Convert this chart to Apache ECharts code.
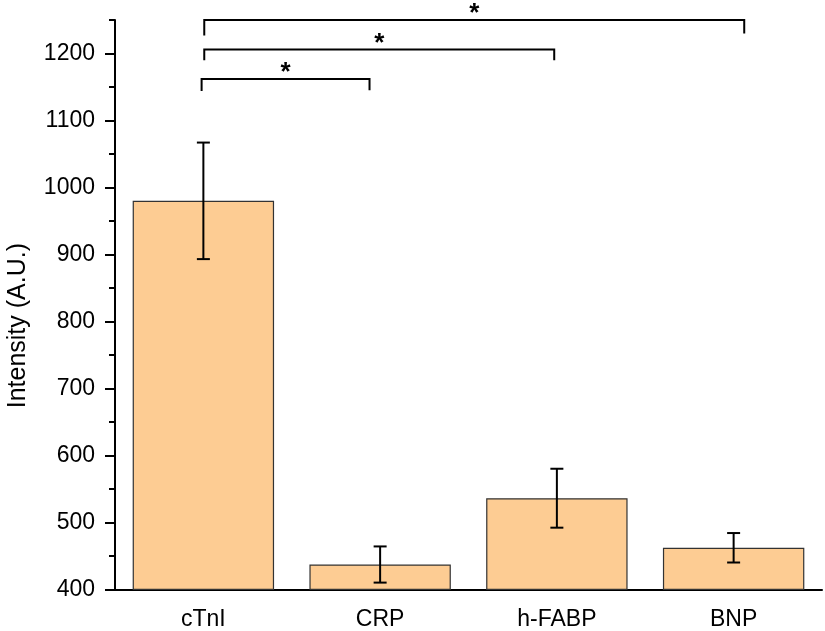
<!DOCTYPE html>
<html>
<head>
<meta charset="utf-8">
<script src="https://cdn.jsdelivr.net/npm/echarts@6/dist/echarts.min.js"></script>
<style>
html,body{margin:0;padding:0;background:#fff;}
#chart{width:825px;height:631px;}
</style>
</head>
<body>
<div id="chart"></div>
<script>
// ---- data ----
const categories = ['cTnI', 'CRP', 'h-FABP', 'BNP'];
const means = [980, 437, 536, 462];
const errors = [87, 27, 44, 22];
const yMajorTicks = [400, 500, 600, 700, 800, 900, 1000, 1100, 1200];
const yMinorTicks = [450, 550, 650, 750, 850, 950, 1050, 1150, 1250];
// significance brackets (x in category-index units)
const bracketStart = [-0.01, 0.005, 0.005];
const bracketEnd = [0.94, 1.985, 3.06];
const bracketTop = [1162, 1206, 1250];
const bracketLeftDrop = [1144, 1190, 1227];
const bracketRightDrop = [1145, 1190, 1230];
const bracketLabels = ['*', '*', '*'];

const FONT = 'Liberation Sans, Arial, sans-serif';
const chart = echarts.init(document.getElementById('chart'), null, {renderer: 'canvas'});

const errData = categories.map((c, i) => [i, means[i] - errors[i], means[i] + errors[i]]);
const bracketData = bracketStart.map((s, i) => [s, bracketEnd[i], bracketTop[i], bracketLeftDrop[i], bracketRightDrop[i], i]);

const option = {
  animation: false,
  backgroundColor: '#fff',
  grid: {left: 115, right: 3, top: 20, bottom: 41.7, containLabel: false, outerBoundsMode: 'none'},
  xAxis: [
    {
      type: 'category', data: categories, boundaryGap: true,
      axisLine: {onZero: false, lineStyle: {color: '#000', width: 2}},
      axisTick: {alignWithLabel: true, length: 10, lineStyle: {color: '#000', width: 2}},
      axisLabel: {color: '#000', fontSize: 23, fontFamily: FONT, margin: 19},
      splitLine: {show: false}
    },
    {
      type: 'category', data: categories, boundaryGap: true, position: 'bottom',
      axisLine: {show: false, onZero: false},
      axisTick: {alignWithLabel: false, length: 6, lineStyle: {color: '#000', width: 2}},
      axisLabel: {show: false},
      splitLine: {show: false}
    },
    {
      type: 'value', min: -0.5, max: 3.5, show: false,
      axisLine: {onZero: false}
    }
  ],
  yAxis: [
    {
      type: 'value', min: 400, max: 1250,
      name: 'Intensity (A.U.)', nameLocation: 'middle', nameGap: 84,
      nameTextStyle: {color: '#000', fontSize: 25, fontFamily: FONT, padding: [0, 42, 0, 0]},
      axisLine: {show: true, onZero: false, lineStyle: {color: '#000', width: 2}},
      axisTick: {show: true, length: 10, customValues: yMajorTicks, lineStyle: {color: '#000', width: 2}},
      axisLabel: {color: '#000', fontSize: 23, fontFamily: FONT, margin: 20, customValues: yMajorTicks,
                  formatter: function (v) { return String(v); }},
      splitLine: {show: false}
    },
    {
      type: 'value', min: 400, max: 1250, position: 'left',
      axisLine: {show: false, onZero: false},
      axisTick: {show: true, length: 6, customValues: yMinorTicks, lineStyle: {color: '#000', width: 2}},
      axisLabel: {show: false},
      splitLine: {show: false}
    }
  ],
  series: [
    {
      type: 'bar', xAxisIndex: 0, yAxisIndex: 0,
      data: means, barWidth: '80%',
      itemStyle: {color: '#FDCC93', borderColor: '#333', borderWidth: 1.2}
    },
    {
      type: 'custom', xAxisIndex: 0, yAxisIndex: 0,
      data: errData, z: 5,
      renderItem: function (params, api) {
        const x = api.value(0);
        const lo = api.coord([x, api.value(1)]);
        const hi = api.coord([x, api.value(2)]);
        const hw = 6.5;
        const st = {stroke: '#000', lineWidth: 2};
        return {type: 'group', children: [
          {type: 'line', shape: {x1: lo[0], y1: lo[1], x2: hi[0], y2: hi[1]}, style: st},
          {type: 'line', shape: {x1: lo[0] - hw, y1: lo[1], x2: lo[0] + hw, y2: lo[1]}, style: st},
          {type: 'line', shape: {x1: hi[0] - hw, y1: hi[1], x2: hi[0] + hw, y2: hi[1]}, style: st}
        ]};
      }
    },
    {
      type: 'custom', xAxisIndex: 2, yAxisIndex: 0,
      data: bracketData, z: 6, clip: false,
      renderItem: function (params, api) {
        const x1 = api.value(0), x2 = api.value(1), yt = api.value(2), yl = api.value(3), yr = api.value(4);
        const pTL = api.coord([x1, yt]);
        const pTR = api.coord([x2, yt]);
        const pBL = api.coord([x1, yl]);
        const pBR = api.coord([x2, yr]);
        const st = {stroke: '#000', lineWidth: 2, fill: null};
        return {type: 'group', children: [
          {type: 'polyline', shape: {points: [pBL, pTL, pTR, pBR]}, style: st},
          {type: 'text', x: (pTL[0] + pTR[0]) / 2, y: pTL[1] + 7,
           style: {text: bracketLabels[api.value(5)], fill: '#000', font: 'bold 26px ' + FONT, textAlign: 'center', textVerticalAlign: 'bottom'}}
        ]};
      }
    }
  ]
};
chart.setOption(option);
</script>
</body>
</html>
